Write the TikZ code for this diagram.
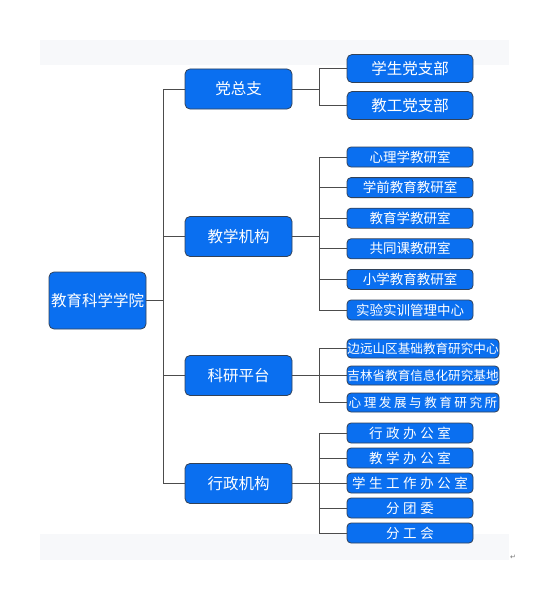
\documentclass[tikz,border=0pt]{standalone}
\usepackage{fontspec}
\newfontfamily\cjk{Noto Sans CJK SC}
\newfontfamily\symfont{DejaVu Sans}
\usetikzlibrary{positioning}
\definecolor{boxblue}{RGB}{10,111,240}
\definecolor{boxline}{RGB}{50,66,88}
\definecolor{bandgray}{RGB}{247,248,250}

\begin{document}
\begin{tikzpicture}[x=1pt,y=-1pt,
    unit/.style={draw=boxline,fill=boxblue,text=white,line width=0.8pt,
      rounded corners=5pt,inner sep=0pt,font=\cjk\fontsize{15.5}{16}\selectfont},
    head/.style={unit,minimum width=97pt,minimum height=57pt},
    dept/.style={unit,minimum width=107pt,minimum height=40pt},
    party/.style={unit,minimum width=126pt,minimum height=28pt},
    sub/.style={unit,minimum width=126pt,minimum height=20pt,rounded corners=4pt,
      font=\cjk\fontsize{13.5}{14}\selectfont},
    lab/.style={unit,minimum width=152pt,minimum height=19pt,rounded corners=4pt,
      font=\cjk\fontsize{12.6}{13}\selectfont},
    wide/.style={font=\cjk\fontsize{12.6}{13}\selectfont\addfontfeature{LetterSpace=20}},
    office/.style={sub,font=\cjk\fontsize{13.5}{14}\selectfont\addfontfeature{LetterSpace=26}},
    link/.style={draw=black!70,line width=1pt}]
  \useasboundingbox (0,0) rectangle (553,594);
  \fill[bandgray] (40,40) rectangle (509,65);
  \fill[bandgray] (40,534) rectangle (509,560);

  \node[head] (u0) at (97.5,300.5) {教育科学学院};
  \node[dept] (u1) at (238.5,89) {党总支};
  \node[dept] (u2) at (238.5,236.5) {教学机构};
  \node[dept] (u3) at (238.5,375.5) {科研平台};
  \node[dept] (u4) at (238.5,483.5) {行政机构};

  \node[party] (u11) at (410,68.5) {学生党支部};
  \node[party] (u12) [below=8.2pt of u11] {教工党支部};

  \node[sub] (u21) at (410,157) {心理学教研室};
  \node[sub] (u22) [below=9.8pt of u21] {学前教育教研室};
  \node[sub] (u23) [below=9.8pt of u22] {教育学教研室};
  \node[sub] (u24) [below=9.8pt of u23] {共同课教研室};
  \node[sub] (u25) [below=9.8pt of u24] {小学教育教研室};
  \node[sub] (u26) [below=9.8pt of u25] {实验实训管理中心};

  \node[lab] (u31) at (423,348.5) {边远山区基础教育研究中心};
  \node[lab] (u32) [below=7.2pt of u31] {吉林省教育信息化研究基地};
  \node[lab,wide] (u33) [below=7.2pt of u32] {心理发展与教育研究所};

  \node[office] (u41) at (410,433) {行政办公室};
  \node[office] (u42) [below=4.2pt of u41] {教学办公室};
  \node[office] (u43) [below=4.2pt of u42] {学生工作办公室};
  \node[office] (u44) [below=4.2pt of u43] {分团委};
  \node[office] (u45) [below=4.2pt of u44] {分工会};

  \node[text=black!55,font=\symfont\fontsize{7}{7}\selectfont] (ret) at (513,557) {↵};

  \foreach \d in {u1,u2,u3,u4}
    \draw[link] (u0.east) -- ++(17,0) |- (\d.west);
  \foreach \c in {u11,u12}
    \draw[link] (u1.east) -- ++(27,0) |- (\c.west);
  \foreach \c in {u21,u22,u23,u24,u25,u26}
    \draw[link] (u2.east) -- ++(27,0) |- (\c.west);
  \foreach \c in {u31,u32,u33}
    \draw[link] (u3.east) -- ++(27,0) |- (\c.west);
  \foreach \c in {u41,u42,u43,u44,u45}
    \draw[link] (u4.east) -- ++(27,0) |- (\c.west);
\end{tikzpicture}
\end{document}
